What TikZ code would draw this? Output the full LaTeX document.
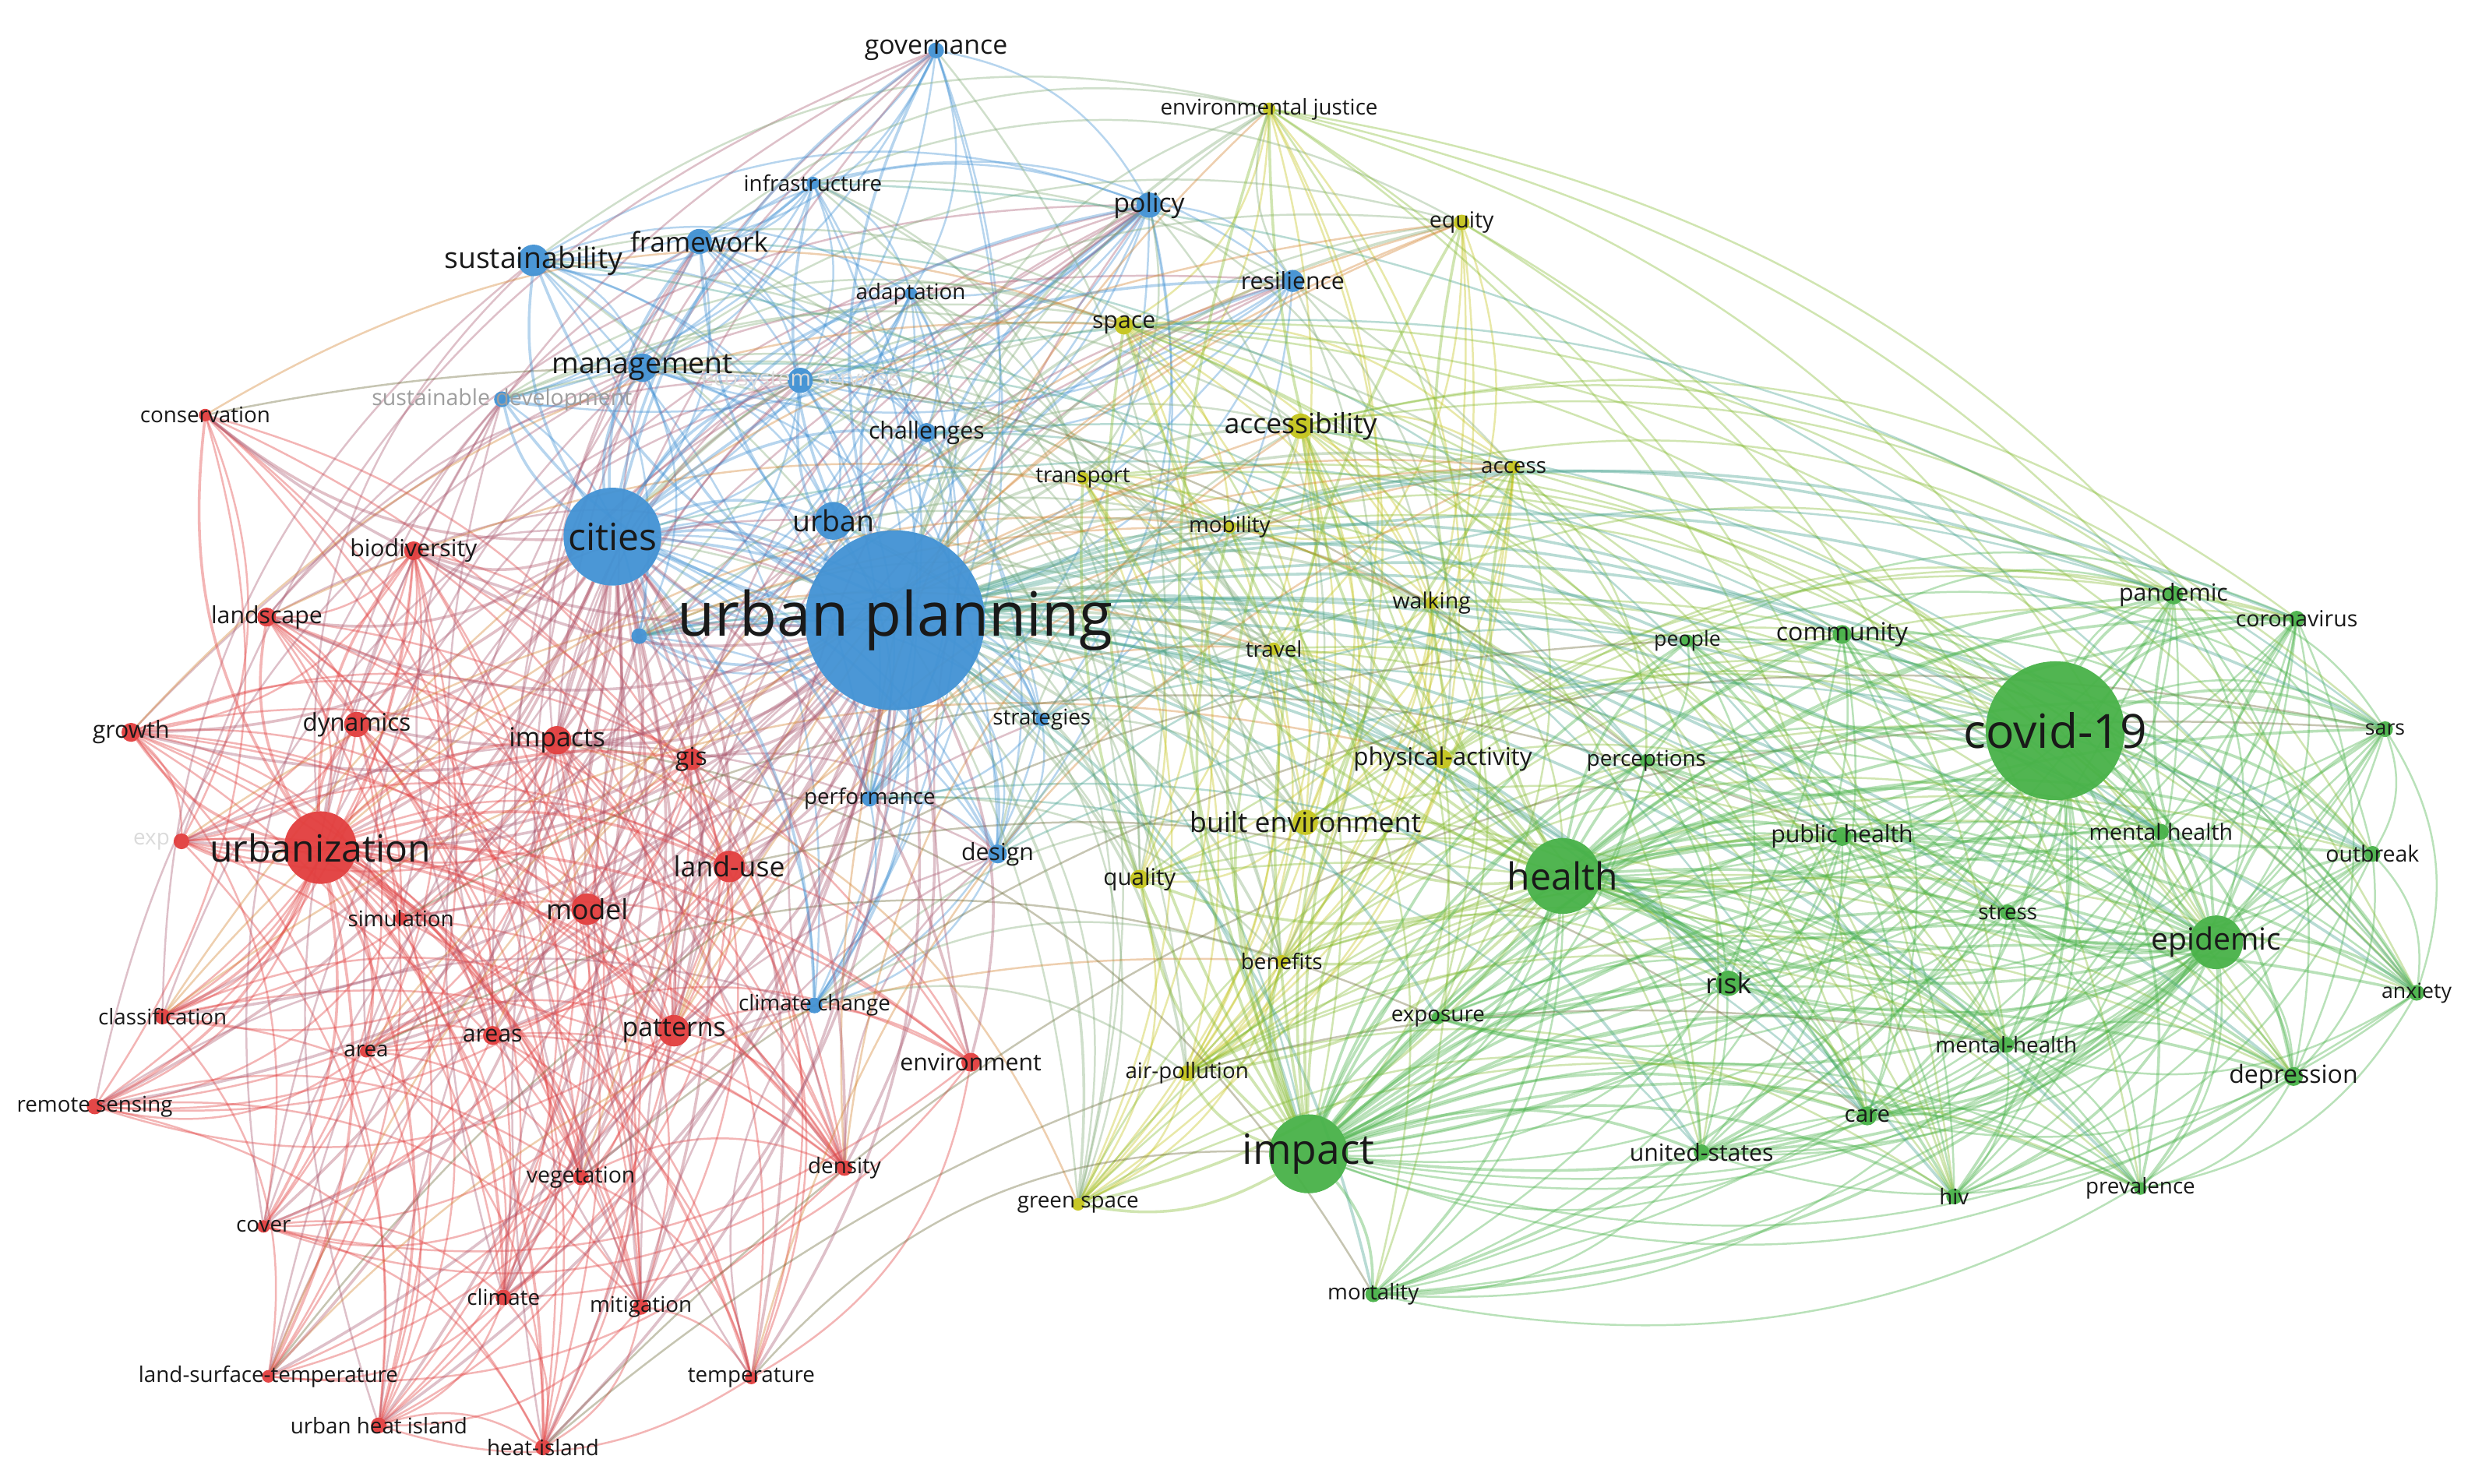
\documentclass[tikz,border=0pt]{standalone}
\usepackage{fontspec}
\setmainfont{Open Sans}
\pgfdeclarelayer{bg}
\pgfsetlayers{bg,main}
\definecolor{cR}{RGB}{226,62,62}
\definecolor{cB}{RGB}{66,146,212}
\definecolor{cG}{RGB}{72,178,72}
\definecolor{cY}{RGB}{196,196,28}
\colorlet{tk}{black!90}
\colorlet{tf1}{black!38}
\colorlet{tf2}{black!14}
\tikzset{
  kw/.style={circle, inner sep=0pt, outer sep=0pt, draw=none, fill opacity=0.95},
  lbl/.style={inner sep=0pt, outer sep=0pt},
  lk/.style={line width=0.7pt, opacity=0.38, bend left=25},
  eR/.style={lk, draw=cR},
  eB/.style={lk, draw=cB},
  eY/.style={lk, draw=cY},
  eG/.style={lk, draw=cG},
  eRB/.style={lk, draw=cR!65!cB},
  eBY/.style={lk, draw=cB!50!cY},
  eYG/.style={lk, draw=cY!50!cG},
  eBG/.style={lk, draw=cB!50!cG},
  eRY/.style={lk, draw=cR!50!cY},
  eRG/.style={lk, draw=cR!40!cG!80!black},
  hb/.style={line width=1pt, opacity=0.38, bend left=20},
}
\newcommand\within[3]{%
  \foreach \a [count=\ii] in #1 {%
    \foreach \b [count=\jj] in #1 {%
      \ifnum\jj>\ii
        \pgfmathrandominteger{\rr}{1}{100}%
        \ifnum\rr<#3 \draw[#2] (\a) to (\b);\fi
      \fi}}}
\newcommand\across[4]{%
  \foreach \a in #1 {%
    \foreach \b in #2 {%
      \pgfmathrandominteger{\rr}{1}{100}%
      \ifnum\rr<#4 \draw[#3] (\a) to (\b);\fi}}}
\newcommand\hubto[3]{%
  \foreach \b in #2 {%
    \edef\ta{#1}\edef\tb{\b}%
    \ifx\ta\tb\else\draw[hb,#3] (#1) to (\b);\fi}}
\def\Rl{cons,bio,land,growth,dyn,impacts,gis,expa,urbz,landuse,model,sim,class,area,areas,patt,env,rs,veg,dens,cover,clim,mitig,lst,temp,uhi,heat}
\def\Bl{gov,infra,frame,sust,policy,resil,adapt,mgmt,sdev,eco,chall,cities,urban,up,hid,strat,perf,design,cc}
\def\Yl{ej,equity,space,access,acc2,transport,mobility,walking,travel,pa,be,quality,benefits,air,green}
\def\Gl{people,comm,covid,pand,corona,sars,perc,ph,mh,outb,health,epi,stress,anx,risk,expo,mhb,dep,care,us,impact,hiv,prev,mort}
\def\NodeData{%
up/567/393/57/cB/22/urban planning/tk,
covid/1302/463/44/cG/17/covid-19/tk,
cities/388/340/31/cB/13.5/cities/tk,
impact/829/731/25/cG/15/impact/tk,
health/990/555/24/cG/13.5/health/tk,
urbz/203/537/23/cR/13.5/urbanization/tk,
epi/1404/597/17/cG/11/epidemic/tk,
urban/528/330/12/cB/10.5/urban/tk,
gov/593/32/5/cB/9.5/governance/tk,
infra/515/116/4/cB/7.8/infrastructure/tk,
frame/443/153/8/cB/9.8/framework/tk,
sust/338/165/10/cB/10.5/sustainability/tk,
policy/728/130/8/cB/9.5/policy/tk,
resil/819/178/7/cB/8.5/resilience/tk,
adapt/577/186/4/cB/7.8/adaptation/tk,
mgmt/407/233/9/cB/10.5/management/tk,
sdev/318/253/5/cB/8/sustainable development/tf1,
eco/507/241/8/cB/8/ecosystem services/tf2,
chall/587/274/6/cB/8.5/challenges/tk,
strat/660/456/4/cB/7.8/strategies/tk,
perf/551/506/5/cB/7.8/performance/tk,
design/632/541/6/cB/8.5/design/tk,
cc/516/637/5/cB/7.8/climate change/tk,
ej/804/69/4/cY/7.8/environmental justice/tk,
equity/926/141/5/cY/8/equity/tk,
space/712/206/6/cY/8.5/space/tk,
access/824/270/8/cY/10/accessibility/tk,
acc2/959/296/4/cY/7.8/access/tk,
transport/686/303/4/cY/7.8/transport/tk,
mobility/779/334/4/cY/7.8/mobility/tk,
walking/907/382/4/cY/8/walking/tk,
travel/807/411/4/cY/7.8/travel/tk,
pa/914/481/6/cY/8.8/physical-activity/tk,
be/827/521/8/cY/10/built environment/tk,
quality/722/557/6/cY/8.3/quality/tk,
benefits/812/609/4/cY/7.8/benefits/tk,
air/752/680/5/cY/7.8/air-pollution/tk,
green/683/763/4/cY/7.8/green space/tk,
people/1069/406/4/cG/7.5/people/tk,
comm/1167/402/6/cG/9/community/tk,
pand/1377/377/6/cG/8.5/pandemic/tk,
corona/1455/392/5/cG/8/coronavirus/tk,
sars/1511/462/5/cG/7.5/sars/tk,
perc/1043/482/4/cG/7.8/perceptions/tk,
ph/1167/530/6/cG/8.5/public health/tk,
mh/1369/527/5/cG/8/mental health/tk,
outb/1503/541/5/cG/8/outbreak/tk,
stress/1272/578/5/cG/7.8/stress/tk,
anx/1531/629/5/cG/7.5/anxiety/tk,
risk/1095/623/8/cG/10/risk/tk,
expo/911/645/4/cG/7.8/exposure/tk,
mhb/1271/662/5/cG/7.8/mental-health/tk,
dep/1453/682/6/cG/9/depression/tk,
care/1183/707/6/cG/8.3/care/tk,
us/1078/730/5/cG/8.5/united-states/tk,
hiv/1238/758/5/cG/7.8/hiv/tk,
prev/1356/753/4/cG/7.8/prevalence/tk,
mort/870/820/5/cG/7.8/mortality/tk,
cons/130/263/4/cR/7.8/conservation/tk,
bio/262/349/6/cR/8.5/biodiversity/tk,
land/169/391/6/cR/8.5/landscape/tk,
growth/83/464/6/cR/8.5/growth/tk,
dyn/226/459/8/cR/8.8/dynamics/tk,
impacts/353/469/9/cR/9.5/impacts/tk,
gis/438/481/7/cR/9/gis/tk,
landuse/462/549/10/cR/10/land-use/tk,
model/372/576/10/cR/10/model/tk,
sim/254/582/4/cR/7.8/simulation/tk,
class/103/644/5/cR/7.8/classification/tk,
area/232/666/4/cR/7.8/area/tk,
areas/312/656/6/cR/8.5/areas/tk,
patt/427/653/10/cR/9.5/patterns/tk,
env/615/673/6/cR/8.5/environment/tk,
rs/60/701/5/cR/7.8/remote sensing/tk,
veg/368/746/5/cR/8/vegetation/tk,
dens/535/740/5/cR/7.8/density/tk,
cover/167/777/4/cR/7.8/cover/tk,
clim/319/822/5/cR/7.8/climate/tk,
mitig/406/828/5/cR/7.8/mitigation/tk,
lst/170/872/4/cR/7.8/land-surface-temperature/tk,
temp/476/873/4/cR/7.8/temperature/tk,
uhi/240/903/5/cR/7.8/urban heat island/tk,
heat/344/917/5/cR/7.8/heat-island/tk}
\begin{document}
\begin{tikzpicture}[x=0.2mm,y=-0.2mm]
\useasboundingbox (0,0) rectangle (1568,940);
% circles
\foreach \n/\x/\y/\r/\c/\f/\t/\tc in \NodeData {
  \node[kw, fill=\c, minimum size=\r*0.4mm] (\n) at (\x,\y) {};
}
\node[kw, fill=cB, minimum size=2mm] (hid) at (405,403) {};
\node[kw, fill=cR, minimum size=2mm] (expa) at (115,533) {};
% labels
\node[lbl, text=tf2, font=\fontsize{7.8}{8}\selectfont] (expa-t) at (96,533) {exp};
\foreach \n/\x/\y/\r/\c/\f/\t/\tc in \NodeData {
  \node[lbl, text=\tc, font=\fontsize{\f}{\f}\selectfont] (\n-t) at (\x,\y) {\t};
}
% connectors
\begin{pgfonlayer}{bg}
\fill[white] (0,0) rectangle (1568,940);
\pgfmathsetseed{4242}
\within{\Rl}{eR}{42}
\within{\Bl}{eB}{52}
\within{\Yl}{eY}{48}
\within{\Gl}{eG}{42}
\across{\Rl}{\Bl}{eRB}{13}
\across{\Bl}{\Yl}{eBY}{22}
\across{\Yl}{\Gl}{eYG}{18}
\across{\Bl}{\Gl}{eBG}{5}
\across{\Rl}{\Yl}{eRY}{7}
\across{\Rl}{\Gl}{eRG}{2}
\hubto{up}{\Bl}{draw=cB}
\hubto{up}{\Rl}{draw=cR!65!cB}
\hubto{up}{\Yl}{draw=cB!50!cY}
\hubto{up}{\Gl}{draw=cB!50!cG}
\hubto{cities}{\Rl}{draw=cR!70!cB}
\hubto{cities}{\Bl}{draw=cB}
\hubto{urbz}{\Rl}{draw=cR}
\hubto{covid}{\Gl}{draw=cG}
\hubto{epi}{\Gl}{draw=cG}
\hubto{health}{\Gl}{draw=cG}
\hubto{health}{\Yl}{draw=cY!50!cG}
\hubto{impact}{\Gl}{draw=cG}
\hubto{impact}{\Yl}{draw=cY!50!cG}
\end{pgfonlayer}
\end{tikzpicture}
\end{document}
